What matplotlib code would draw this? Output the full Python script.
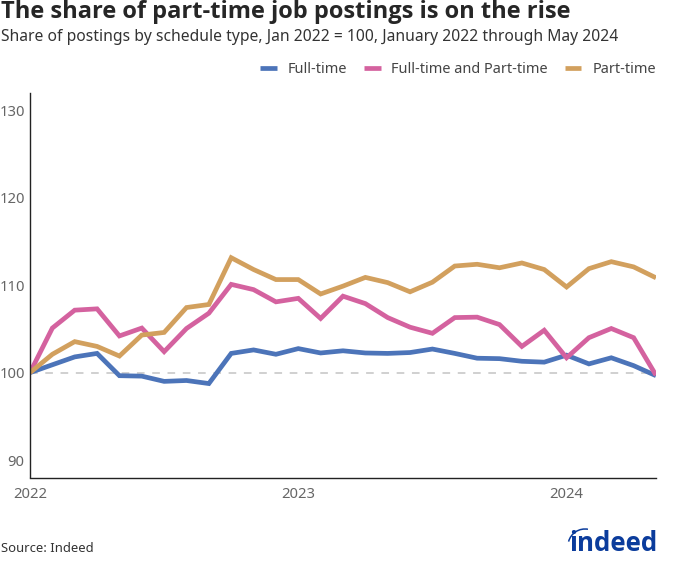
import matplotlib
matplotlib.use("Agg")
import matplotlib.pyplot as plt
from matplotlib.patches import Arc
import numpy as np

plt.rcParams['font.family'] = ['Noto Sans', 'DejaVu Sans']

#######################
# Data, Jan 2022 - May 2024
#######################
full_time = [100, 100.9, 101.8, 102.2, 99.65, 99.6, 99.0, 99.1, 98.75, 102.2,
             102.6, 102.1, 102.75, 102.25, 102.5, 102.25, 102.2, 102.3, 102.7, 102.2,
             101.65, 101.6, 101.3, 101.2, 102.0, 101.0, 101.7, 100.8, 99.65]
full_and_part = [100, 105.1, 107.15, 107.3, 104.2, 105.1, 102.4, 105.05, 106.8, 110.1,
                 109.5, 108.1, 108.5, 106.2, 108.75, 107.9, 106.3, 105.2, 104.5, 106.3,
                 106.35, 105.5, 103.0, 104.85, 101.7, 104.0, 105.05, 104.0, 99.7]
part_time = [100, 102.1, 103.55, 103.0, 101.9, 104.3, 104.6, 107.45, 107.8, 113.15,
             111.8, 110.65, 110.65, 109.0, 109.9, 110.9, 110.3, 109.25, 110.35, 112.2,
             112.4, 112.0, 112.55, 111.8, 109.8, 111.9, 112.7, 112.1, 110.85]
year_ticks = [0, 12, 24]
year_labels = ['2022', '2023', '2024']
y_ticks = [90, 100, 110, 120, 130]

months = np.arange(len(full_time))

fig = plt.figure(figsize=(6.8, 5.67), dpi=100)
ax = fig.add_axes([30/680, 1-477.5/567, 626/680, 384.5/567])

ax.axhline(100, color='#c4c4c4', lw=1.1, dashes=(5, 5), zorder=1)
ax.plot(months, full_time, color='#4c74b9', lw=3.4, label='Full-time', solid_joinstyle='miter', solid_capstyle='butt')
ax.plot(months, full_and_part, color='#d4629f', lw=3.4, label='Full-time and Part-time', solid_joinstyle='miter', solid_capstyle='butt')
ax.plot(months, part_time, color='#d2a05e', lw=3.4, label='Part-time', solid_joinstyle='miter', solid_capstyle='butt')

ax.set_xlim(0, 28)
ax.set_ylim(88, 132)
ax.set_yticks(y_ticks)
ax.set_xticks(year_ticks)
ax.set_xticklabels(year_labels)
ax.tick_params(length=0, labelsize=10.7, colors='#666666')
ax.tick_params(axis='x', pad=6.5)
ax.tick_params(axis='y', pad=3.8)
for s in ['top', 'right']:
    ax.spines[s].set_visible(False)
for s in ['left', 'bottom']:
    ax.spines[s].set_linewidth(1.0)
    ax.spines[s].set_color('#222222')

fig.text(1/680, 1-18.5/567, 'The share of part-time job postings is on the rise',
         fontsize=17.0, family='Open Sans', fontweight='bold', color='#262626', va='baseline')
fig.text(1/680, 1-37/567, 'Share of postings by schedule type, Jan 2022 = 100, January 2022 through May 2024',
         fontsize=11.28, color='#333333', va='center')
fig.text(1/680, 1-548/567, 'Source: Indeed', fontsize=9.4, color='#333333', va='center')

ax.legend(loc='center right', bbox_to_anchor=(1.0, (477.5-69.5)/384.5), ncol=3, frameon=False,
          fontsize=10.45, labelcolor='#444444', handlelength=1.15, handletextpad=0.75,
          columnspacing=1.15, borderaxespad=0, borderpad=0)

# logo
fig.text(657/680, 1-551/567, 'indeed', fontsize=18.6, family='Open Sans', fontweight='bold', color='#0b3c9c',
         ha='right', va='baseline')
logo = fig.add_axes([0, 0, 1, 1], facecolor='none')
logo.set_xlim(0, 680)
logo.set_ylim(567, 0)
logo.axis('off')
logo.add_patch(Arc((585, 546), 34, 34, theta1=195, theta2=280, color='#0b3c9c', lw=1.1))

fig.savefig('out.png', dpi=100)
